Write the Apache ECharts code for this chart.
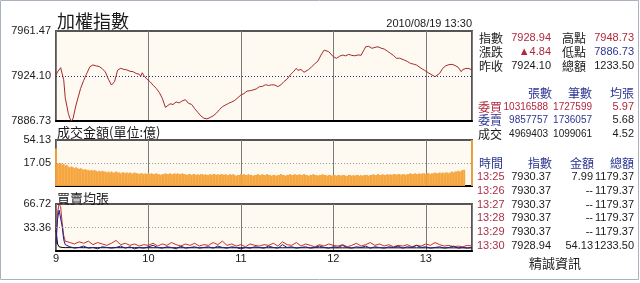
<!DOCTYPE html>
<html><head><meta charset="utf-8">
<script src="https://cdn.jsdelivr.net/npm/echarts@6/dist/echarts.min.js"></script>
<style>html,body{margin:0;padding:0;background:#fff}#c{width:640px;height:283px}</style>
</head><body><div id="c"></div>
<script>
// ---- data ----
const idxTimes = [0,1,3,5,6,8,9,10,11,13,16,18,20,22,24,26,28,30,32,34,36,37,38,40,42,44,46,48,50,52,54,55,56,57,59,61,63,65,67,69,71,72,74,76,78,80,82,84,86,88,90,92,94,96,98,100,102,104,106,108,110,112,114,116,118,120,122,124,126,128,130,132,134,136,138,140,142,144,146,148,150,152,154,156,157,158,159,160,161,162,164,166,168,170,172,174,175,177,180,182,184,186,188,190,192,194,196,198,199,200,201,202,203,205,207,209,211,213,215,217,219,221,223,224,226,228,230,232,234,235,237,239,240,242,244,246,247,249,251,253,255,257,259,261,263,264,265,266,267,268,269,270];
const idxValues = [7925.0,7927.5,7931.0,7921.0,7906.0,7893.0,7889.0,7886.73,7888.5,7900.0,7913.9,7920.5,7926.3,7931.8,7933.3,7932.5,7932.0,7930.2,7927.5,7921.5,7916.6,7917.2,7919.4,7929.0,7930.5,7929.6,7929.2,7928.0,7927.7,7926.2,7925.6,7923.8,7926.8,7924.5,7921.5,7919.4,7916.5,7913.9,7910.5,7905.6,7898.0,7897.3,7901.0,7900.5,7902.5,7901.8,7903.5,7904.4,7901.4,7900.5,7897.0,7894.0,7891.0,7889.0,7888.5,7889.6,7891.0,7893.1,7896.0,7898.6,7900.0,7901.4,7902.5,7903.8,7906.0,7908.3,7909.5,7911.6,7911.9,7912.5,7913.4,7915.2,7915.5,7916.9,7916.2,7916.8,7916.6,7915.3,7916.8,7919.5,7921.5,7925.0,7927.5,7930.5,7928.8,7927.7,7929.5,7929.0,7927.2,7926.3,7929.5,7931.8,7934.3,7936.5,7941.5,7945.6,7946.5,7944.3,7940.1,7938.8,7940.5,7941.5,7940.8,7942.1,7941.2,7940.9,7941.6,7941.3,7942.1,7946.0,7948.4,7947.2,7948.73,7947.1,7947.8,7948.4,7947.2,7946.5,7944.8,7943.0,7941.2,7938.8,7938.9,7937.3,7937.4,7936.2,7934.6,7934.0,7933.2,7931.8,7930.5,7929.0,7927.7,7926.5,7925.0,7923.5,7923.8,7926.3,7930.5,7932.6,7933.5,7933.8,7932.8,7931.4,7927.7,7929.5,7930.37,7930.37,7930.37,7930.37,7930.37,7928.94];
const prevClose = 7924.10;
const idxMin = 7886.73, idxMax = 7961.47;

const volValues = [
44,27,26,27,25,26,24,25,23,22,23,
22,21,22,21,20,21,20,19,20,19,
19,18,19,18,19,18,17,18,17,18,
17,17,16,17,16,17,16,16,17,16,
16,15,16,16,15,16,15,16,15,15,
16,15,15,14,15,15,14,15,14,15,
14,15,14,14,15,14,14,13,14,14,
15,14,14,15,14,14,15,14,15,14,
14,15,14,14,13,14,14,13,14,14,
13,14,13,14,14,13,14,13,13,14,
13,14,14,13,14,13,14,14,13,14,
13,13,14,13,14,13,12,13,13,14,
13,14,13,13,14,13,13,12,13,13,
14,13,13,14,13,13,14,13,13,12,
13,13,12,13,13,14,13,13,12,13,
13,14,13,13,14,13,13,14,13,13,
14,13,13,12,13,13,14,13,13,12,
13,13,14,13,13,12,13,13,12,13,
13,12,13,13,12,13,13,12,12,13,
13,12,13,12,13,13,12,13,12,13,
13,13,12,13,13,14,13,13,14,13,
13,14,13,13,14,13,14,13,14,14,
13,14,14,13,14,14,13,14,14,15,
14,14,15,14,14,15,14,15,15,14,
15,15,14,15,15,16,15,15,16,15,
16,15,16,16,15,16,17,16,17,17,
18,17,18,19,19,
0,0,0,0,
54.13];
const volTickLabels = ['', '17.05', '54.13'];
const volMax = 54.13;

const bsTimes = [0,1,2,3,4,5,6,9,12,15,18,21,24,27,30,33,36,39,42,45,48,51,54,57,60,63,66,69,72,75,78,81,84,87,90,93,96,99,102,105,108,111,114,117,120,123,126,129,132,135,138,141,144,147,150,153,156,159,162,165,168,171,174,177,180,183,186,189,192,195,198,201,204,207,210,213,216,219,222,225,228,231,234,237,240,243,246,249,252,255,258,261,264,267,270];
const bsBuy = [18,55,66.7,63,40,22,14,
12,10,13,11,14,9,12,10,8,11,
15,9,11,8,10,7,9,8,11,7,
10,8,12,9,7,10,8,11,7,9,
8,12,9,14,8,10,7,9,6,10,
8,7,9,8,11,7,13,9,8,12,
7,10,8,6,9,7,10,8,7,9,
6,8,11,7,9,12,8,10,7,9,
6,8,7,9,6,8,7,10,8,12,
9,7,8,6,7,6,8,7];
const bsSell = [10,45,58,56,35,16,9,
6,4,5,7,4,5,3,6,5,4,
5,7,4,6,3,5,4,6,8,5,
4,6,5,3,7,4,5,6,4,5,
6,4,7,5,4,6,5,3,5,4,
6,5,4,7,5,4,9,5,6,4,
5,6,4,5,7,5,4,6,5,8,
5,4,6,5,7,4,6,5,4,6,
5,7,4,6,5,8,5,6,4,5,
6,4,5,7,4,5,4,5];
const bsDeal = [30,10,6,5.2,5,4.9,4.8,
4.8,4.8,4.8,4.7,4.7,4.7,4.7,4.7,4.7,4.7,
4.7,4.7,4.7,4.7,4.7,4.6,4.6,4.6,4.6,4.6,
4.6,4.6,4.6,4.6,4.6,4.6,4.6,4.6,4.6,4.6,
4.6,4.6,4.6,4.6,4.6,4.6,4.6,4.6,4.6,4.6,
4.6,4.6,4.6,4.6,4.6,4.6,4.6,4.6,4.6,4.6,
4.6,4.6,4.6,4.6,4.6,4.6,4.5,4.5,4.5,4.5,
4.5,4.5,4.5,4.5,4.5,4.5,4.5,4.5,4.5,4.5,
4.5,4.5,4.5,4.5,4.5,4.5,4.5,4.5,4.5,4.5,
4.5,4.5,4.5,4.5,4.5,4.5,4.5,4.52];
const bsMax = 66.72;

const hourLabels = ['9','10','11','12','13'];

const quoteRows = [
  ['指數','7928.94','高點','7948.73'],
  ['漲跌','▲4.84','低點','7886.73'],
  ['昨收','7924.10','總額','1233.50']
];
const statHeader = ['張數','筆數','均張'];
const statRows = [
  ['委買','10316588','1727599','5.97'],
  ['委賣','9857757','1736057','5.68'],
  ['成交','4969403','1099061','4.52']
];
const tickHeader = ['時間','指數','金額','總額'];
const tickRows = [
  ['13:25','7930.37','7.99','1179.37'],
  ['13:26','7930.37','--','1179.37'],
  ['13:27','7930.37','--','1179.37'],
  ['13:28','7930.37','--','1179.37'],
  ['13:29','7930.37','--','1179.37'],
  ['13:30','7928.94','54.13','1233.50']
];

// ---- styles ----
const RED = '#b0283c', BLUE = '#2c3592', BLK = '#1a1a1a', TRED = '#a8304a';
const NUM = '11px "Liberation Sans", Arial, sans-serif';
const NUMS = '10px "Liberation Sans", Arial, sans-serif';
const CJK = '12px "Noto Sans CJK TC", sans-serif';
const BG = '#fefaf2';

function T(x, y, text, font, fill, align) {
  return { type: 'text', x: x, y: y, silent: true,
    style: { text: text, font: font, fill: fill, textAlign: align || 'left', align: align || 'left',
      textVerticalAlign: 'middle', verticalAlign: 'middle' } };
}

const g = [];
g.push({ type: 'rect', shape: { x: 0.5, y: 0.5, width: 638, height: 279 }, style: { fill: 'none', stroke: '#aab2c0', lineWidth: 1 }, silent: true });
g.push(T(57, 21, '加權指數', '18px "Noto Sans CJK TC", sans-serif', BLK));
g.push(T(472, 24, '2010/08/19 13:30', NUM, BLK, 'right'));
g.push(T(57, 132, '成交金額(單位:億)', '13px "Noto Sans CJK TC", sans-serif', BLK));
g.push(T(57, 198, '買賣均張', '13px "Noto Sans CJK TC", sans-serif', BLK));

const qy = [38, 52, 66];
quoteRows.forEach((r, i) => {
  const y = qy[i];
  g.push(T(479, y, r[0], CJK, BLK));
  g.push(T(551, y, r[1], NUM, i === 2 ? BLK : RED, 'right'));
  g.push(T(562, y, r[2], CJK, BLK));
  g.push(T(634, y, r[3], NUM, i === 0 ? RED : (i === 1 ? BLUE : BLK), 'right'));
});
g.push(T(552, 93, statHeader[0], CJK, BLUE, 'right'));
g.push(T(592, 93, statHeader[1], CJK, BLUE, 'right'));
g.push(T(634, 93, statHeader[2], CJK, BLUE, 'right'));
const sy = [107, 120, 134];
const sc = [RED, BLUE, BLK];
statRows.forEach((r, i) => {
  const y = sy[i];
  g.push(T(478, y, r[0], CJK, sc[i]));
  g.push(T(548, y, r[1], NUMS, sc[i], 'right'));
  g.push(T(592, y, r[2], NUMS, sc[i], 'right'));
  g.push(T(634, y, r[3], NUM, i === 0 ? RED : BLK, 'right'));
});
g.push(T(479, 163, tickHeader[0], CJK, BLUE));
g.push(T(552, 163, tickHeader[1], CJK, BLUE, 'right'));
g.push(T(594, 163, tickHeader[2], CJK, BLUE, 'right'));
g.push(T(634, 163, tickHeader[3], CJK, BLUE, 'right'));
tickRows.forEach((r, i) => {
  const y = 177 + i * 13.8;
  g.push(T(477, y, r[0], NUM, TRED));
  g.push(T(551, y, r[1], NUM, BLK, 'right'));
  g.push(T(593, y, r[2], NUM, BLK, 'right'));
  g.push(T(634, y, r[3], NUM, BLK, 'right'));
});
g.push(T(555, 263, '精誠資訊', '13px "Noto Sans CJK TC", sans-serif', BLK, 'center'));

function xAx(i, showLabel) {
  return { type: 'value', gridIndex: i, min: 0, max: 270, interval: 60,
    axisLine: { show: true, onZero: false, lineStyle: { color: '#000', width: 2 } },
    axisTick: { show: false },
    axisLabel: { show: showLabel, margin: 2, showMinLabel: true, color: BLK, fontSize: 11, fontFamily: 'Liberation Sans',
      formatter: v => hourLabels[Math.round(v / 60)] || '' },
    splitLine: { show: true, lineStyle: { color: '#7a7a7a', width: 1 } } };
}
const yLab = { color: BLK, fontSize: 11, fontFamily: 'Liberation Sans', margin: 5 };

const option = {
  animation: false,
  backgroundColor: '#fff',
  grid: [
    { left: 56, top: 31, width: 416, height: 90, show: true, backgroundColor: BG, borderColor: '#555', borderWidth: 2 },
    { left: 56, top: 140, width: 416, height: 46, show: true, backgroundColor: BG, borderColor: '#555', borderWidth: 2 },
    { left: 56, top: 204, width: 416, height: 47, show: true, backgroundColor: BG, borderColor: '#555', borderWidth: 2 }
  ],
  xAxis: [xAx(0, false), xAx(1, false), xAx(2, true)],
  yAxis: [
    { type: 'value', gridIndex: 0, min: idxMin, max: idxMax, interval: 37.37,
      axisLine: { show: false }, axisTick: { show: false }, splitLine: { show: false },
      axisLabel: Object.assign({ formatter: v => v.toFixed(2) }, yLab) },
    { type: 'value', gridIndex: 1, min: 0, max: volMax, interval: volMax / 2,
      axisLine: { show: false }, axisTick: { show: false }, splitLine: { show: false },
      axisLabel: Object.assign({ formatter: (v, i) => volTickLabels[i] }, yLab) },
    { type: 'value', gridIndex: 2, min: 0, max: bsMax, interval: bsMax / 2,
      axisLine: { show: false }, axisTick: { show: false }, splitLine: { show: false },
      axisLabel: Object.assign({ formatter: v => v === 0 ? '' : v.toFixed(2) }, yLab) }
  ],
  series: [
    { type: 'line', xAxisIndex: 0, yAxisIndex: 0, showSymbol: false,
      data: idxTimes.map((t, i) => [t, idxValues[i]]),
      lineStyle: { color: '#a52a2a', width: 1 },
      markLine: { silent: true, symbol: 'none', label: { show: false },
        lineStyle: { color: '#2a2a80', type: [1, 2], width: 1 }, data: [{ yAxis: prevClose }] } },
    { type: 'bar', xAxisIndex: 1, yAxisIndex: 1, barWidth: 1.8,
      data: volValues.map((v, i) => [i, v]),
      itemStyle: { color: '#f6a640' },
      markLine: { silent: true, symbol: 'none', label: { show: false },
        lineStyle: { color: '#999', type: [1, 2], width: 1 }, data: [{ yAxis: volMax / 2 }] } },
    { type: 'line', xAxisIndex: 2, yAxisIndex: 2, showSymbol: false,
      data: bsTimes.map((t, i) => [t, bsDeal[i]]),
      lineStyle: { color: '#000', width: 1 },
      markLine: { silent: true, symbol: 'none', label: { show: false },
        lineStyle: { color: '#999', type: [1, 2], width: 1 }, data: [{ yAxis: bsMax / 2 }] } },
    { type: 'line', xAxisIndex: 2, yAxisIndex: 2, showSymbol: false,
      data: bsTimes.map((t, i) => [t, bsBuy[i]]),
      lineStyle: { color: '#c8302a', width: 1 } },
    { type: 'line', xAxisIndex: 2, yAxisIndex: 2, showSymbol: false,
      data: bsTimes.map((t, i) => [t, bsSell[i]]),
      lineStyle: { color: '#1c1c9a', width: 1 } }
  ],
  graphic: g
};
const chart = echarts.init(document.getElementById('c'), null, { renderer: 'canvas' });
chart.setOption(option);
</script>
</body></html>
